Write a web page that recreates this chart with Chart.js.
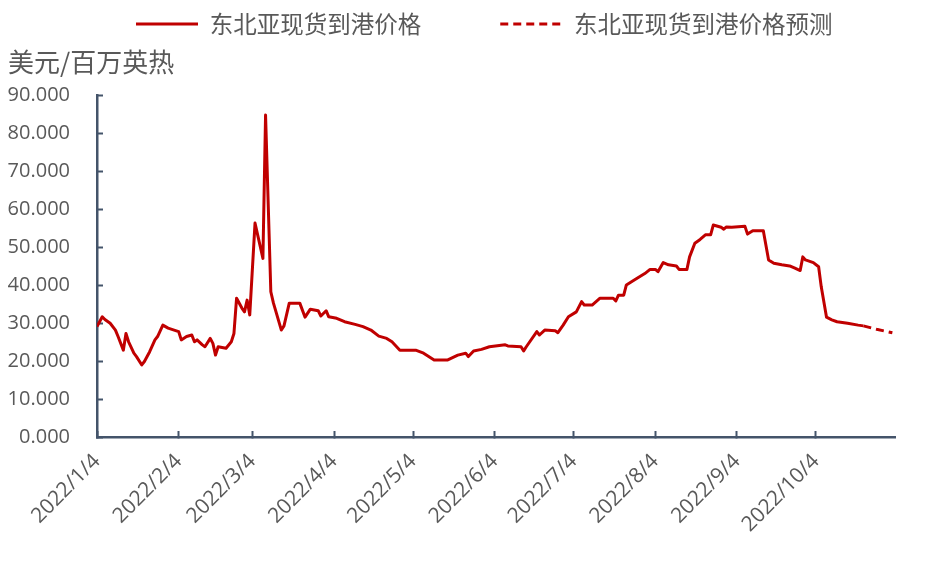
<!DOCTYPE html>
<html>
<head>
<meta charset="utf-8">
<script src="https://cdn.jsdelivr.net/npm/chart.js@4"></script>
<style>
html,body{margin:0;padding:0;background:#fff;}
#wrap{width:940px;height:563px;}
</style>
</head>
<body>
<div id="wrap"><canvas id="c" width="940" height="563"></canvas></div>
<script>
const seriesNames = ['东北亚现货到港价格', '东北亚现货到港价格预测'];
const unitLabel = '美元/百万英热';

const actualDates = [
  '2022-01-04','2022-01-06','2022-01-07','2022-01-09','2022-01-11','2022-01-12','2022-01-14','2022-01-15','2022-01-16','2022-01-18',
  '2022-01-19','2022-01-21','2022-01-22','2022-01-24','2022-01-26','2022-01-27','2022-01-29','2022-01-31','2022-02-04','2022-02-05',
  '2022-02-07','2022-02-09','2022-02-10','2022-02-11','2022-02-13','2022-02-14','2022-02-16','2022-02-17','2022-02-18','2022-02-19',
  '2022-02-22','2022-02-24','2022-02-25','2022-02-26','2022-02-28','2022-03-01','2022-03-02','2022-03-03','2022-03-05','2022-03-08',
  '2022-03-09','2022-03-11','2022-03-12','2022-03-15','2022-03-16','2022-03-18','2022-03-22','2022-03-24','2022-03-26','2022-03-29',
  '2022-03-30','2022-04-01','2022-04-02','2022-04-05','2022-04-08','2022-04-12','2022-04-15','2022-04-18','2022-04-21','2022-04-24',
  '2022-04-26','2022-04-29','2022-05-05','2022-05-08','2022-05-12','2022-05-17','2022-05-21','2022-05-24','2022-05-25','2022-05-27',
  '2022-05-30','2022-06-02','2022-06-08','2022-06-09','2022-06-14','2022-06-15','2022-06-16','2022-06-20','2022-06-21','2022-06-23',
  '2022-06-27','2022-06-28','2022-06-30','2022-07-02','2022-07-05','2022-07-07','2022-07-08','2022-07-11','2022-07-14','2022-07-19',
  '2022-07-20','2022-07-21','2022-07-23','2022-07-24','2022-07-27','2022-07-31','2022-08-02','2022-08-04','2022-08-05','2022-08-07',
  '2022-08-09','2022-08-12','2022-08-13','2022-08-16','2022-08-17','2022-08-19','2022-08-21','2022-08-23','2022-08-25','2022-08-26',
  '2022-08-29','2022-08-30','2022-08-31','2022-09-02','2022-09-07','2022-09-08','2022-09-10','2022-09-14','2022-09-16','2022-09-18',
  '2022-09-21','2022-09-24','2022-09-26','2022-09-28','2022-09-29','2022-09-30','2022-10-03','2022-10-05','2022-10-06','2022-10-08',
  '2022-10-10','2022-10-12','2022-10-16','2022-10-20','2022-10-22'
];
const actualValues = [
  29.1,31.7,31.0,30.0,28.2,26.5,22.9,27.3,25.1,22.1,
  21.2,19.0,19.9,22.5,25.6,26.5,29.5,28.7,27.8,25.6,
  26.5,26.9,25.1,25.6,24.3,23.8,26.0,24.7,21.6,23.8,
  23.4,25.1,27.3,36.6,34.0,33.0,36.1,32.2,56.4,47.1,
  84.9,38.3,35.3,28.2,29.3,35.3,35.3,31.6,33.7,33.3,
  31.9,33.3,31.7,31.3,30.4,29.7,29.1,28.2,26.6,26.0,
  25.1,22.9,22.9,22.1,20.3,20.3,21.6,22.1,21.2,22.7,
  23.1,23.8,24.3,24.0,23.8,22.7,23.8,27.8,26.9,28.2,
  28.0,27.5,29.5,31.7,33.0,35.7,34.8,34.8,36.6,36.6,
  35.9,37.4,37.4,40.1,41.4,43.1,44.2,44.2,43.6,46.0,
  45.4,45.1,44.2,44.2,47.5,51.1,52.1,53.3,53.3,55.9,
  55.3,54.8,55.4,55.3,55.6,53.5,54.4,54.4,46.7,45.8,
  45.4,45.1,44.5,43.9,47.5,46.7,46.0,44.9,39.6,31.6,
  30.9,30.4,30.0,29.5,29.3
];
const forecastDates = ['2022-10-22','2022-10-27','2022-11-02'];
const forecastValues = [29.3, 28.4, 27.5];

const xTickLabels = ['2022/1/4','2022/2/4','2022/3/4','2022/4/4','2022/5/4','2022/6/4','2022/7/4','2022/8/4','2022/9/4','2022/10/4'];
const yTickValues = [0,10,20,30,40,50,60,70,80,90];
const xStart = '2022-01-04';
const xEnd = '2022-11-03';

const DAY = 864e5;
function toUTC(s){ const p = s.split(/[-\/]/).map(Number); return Date.UTC(p[0], p[1]-1, p[2]); }
const BASE = toUTC(xStart);
function dayOf(s){ return Math.round((toUTC(s) - BASE) / DAY); }
const xTickValues = xTickLabels.map(dayOf);
const xMax = dayOf(xEnd);

function points(dates, vals){ return dates.map((d,i) => ({x: dayOf(d), y: vals[i]})); }

const AXIS = '#44546A';
const TXT = '#595959';
const RED = '#C00000';
const CJK = '"Noto Sans CJK SC", "Noto Sans", sans-serif';
const NUM = '"Open Sans", "Noto Sans", sans-serif';

new Chart(document.getElementById('c'), {
  type: 'line',
  data: {
    datasets: [
      {
        label: seriesNames[0],
        data: points(actualDates, actualValues),
        borderColor: RED, backgroundColor: RED,
        borderWidth: 3, pointRadius: 0, tension: 0,
        borderJoinStyle: 'round', borderCapStyle: 'butt', fill: false
      },
      {
        label: seriesNames[1],
        data: points(forecastDates, forecastValues),
        borderColor: RED, backgroundColor: RED,
        borderWidth: 3, pointRadius: 0, tension: 0,
        borderDash: [8, 5], borderCapStyle: 'butt', fill: false
      }
    ]
  },
  options: {
    responsive: false,
    animation: false,
    events: [],
    layout: { padding: { top: -66.75, left: 8, right: -20.5, bottom: 0 } },
    plugins: {
      legend: {
        position: 'top', align: 'center', weight: 1000,
        labels: {
          usePointStyle: true, pointStyle: 'line', pointStyleWidth: 62,
          padding: 79, color: TXT,
          font: { family: CJK, size: 23.5 },
          generateLabels(chart){
            const items = Chart.defaults.plugins.legend.labels.generateLabels(chart);
            items.forEach(it => {
              const ds = chart.data.datasets[it.datasetIndex];
              it.lineDash = ds.borderDash || [];
              it.lineWidth = ds.borderWidth;
              it.strokeStyle = ds.borderColor;
              it.lineCap = 'butt';
              it.pointStyle = 'line';
            });
            return items;
          }
        }
      },
      title: {
        display: true, text: unitLabel, align: 'start', position: 'top', weight: 500,
        color: TXT, font: { family: CJK, size: 26, weight: 'normal' },
        padding: { top: 0.65, bottom: 18.1 }
      },
      tooltip: { enabled: false }
    },
    scales: {
      x: {
        type: 'linear', min: 0, max: xMax,
        afterBuildTicks(s){ s.ticks = xTickValues.map(v => ({ value: v })); },
        afterFit(s){ s.height = 126; },
        border: { color: AXIS, width: 2.5 },
        grid: { drawOnChartArea: false, drawTicks: true, tickLength: -6, tickColor: AXIS, tickWidth: 2 },
        ticks: {
          autoSkip: false, minRotation: 45, maxRotation: 45, padding: 18,
          color: TXT, font: { family: NUM, size: 21 },
          callback(v){ const i = xTickValues.indexOf(v); return i >= 0 ? xTickLabels[i] : ''; }
        }
      },
      y: {
        type: 'linear', position: 'left', min: 0, max: 90,
        afterBuildTicks(s){ s.ticks = yTickValues.map(v => ({ value: v })); },
        afterFit(s){ s.width = 89; },
        border: { color: AXIS, width: 2.5 },
        grid: { drawOnChartArea: false, drawTicks: true, tickLength: -6, tickColor: AXIS, tickWidth: 2 },
        ticks: {
          padding: 33, color: TXT, font: { family: NUM, size: 20 },
          callback(v){ return Number(v).toFixed(3); }
        }
      },
      yR: {
        type: 'linear', position: 'right', display: true,
        grid: { display: false }, border: { display: false }, ticks: { display: false },
        afterFit(s){ s.width = 65.5; }
      }
    }
  }
});
</script>
</body>
</html>
